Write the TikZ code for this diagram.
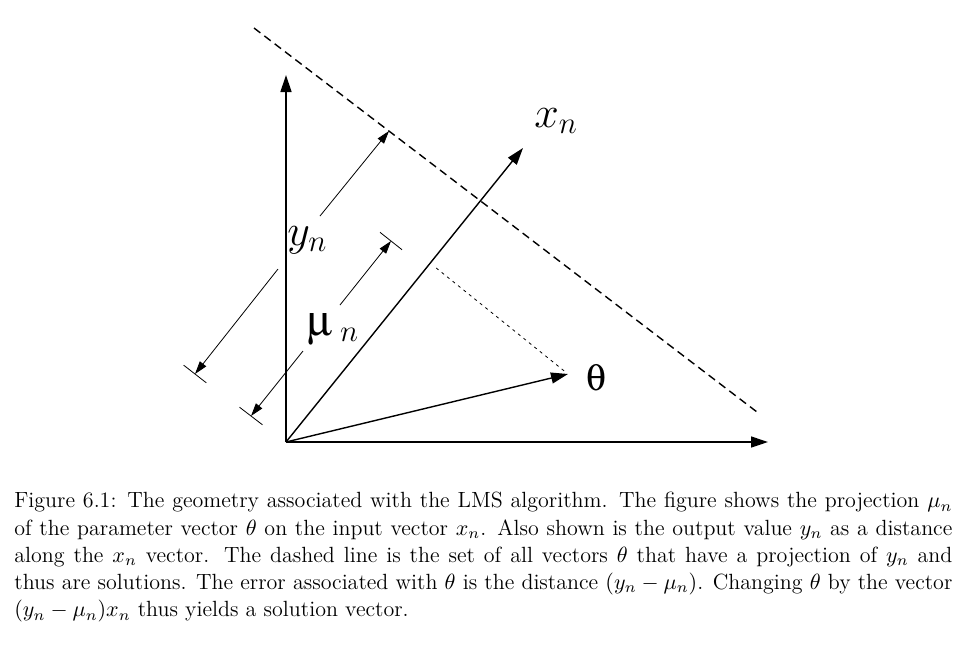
\documentclass[tikz,border=0pt]{standalone}
\usepackage{fix-cm}
\usepackage{fontspec}
\usepackage{amssymb}
\usepackage[Symbol]{upgreek}
\usetikzlibrary{arrows.meta,calc}
\newcommand{\veclabel}[2]{{\fontsize{22}{22}\selectfont$#1_{#2}$}}

\begin{document}
\begin{tikzpicture}[x=0.5pt,y=-0.5pt,
					axis/.style={-{Triangle[length=8.5pt,width=5.5pt]}, line width=0.7pt},
					dim/.style={-{Triangle[length=6.5pt,width=4pt]}, line width=0.4pt},
					tick/.style={line width=0.4pt},
					sol/.style={dashed, dash pattern=on 4pt off 2.5pt, line width=0.7pt},
					proj/.style={dash pattern=on 1.5pt off 2pt, line width=0.4pt},
					lbl/.style={inner sep=0pt, anchor=west},
					caption/.style={anchor=north west, inner sep=0pt, text width=469pt, align=justify, font=\fontsize{11}{13.6}\selectfont}]
					\useasboundingbox (0,0) rectangle (970,650);
					\coordinate (O) at (286,442);
					\coordinate (Yax) at (286,75);
					\coordinate (Xax) at (768,442);
					\coordinate (Xn) at (523,148);
					\coordinate (Th) at (568,374);
					\coordinate (P) at (430,263);
					\coordinate (D1) at (254,28);
					\coordinate (D2) at (757,412);
					\coordinate (Ya) at (195,374);
					\coordinate (Yb) at (389,131);
					\coordinate (Yg1) at (278,269);
					\coordinate (Yg2) at (320,216);
					\coordinate (Ma) at (251,416);
					\coordinate (Mb) at (391,241);
					\coordinate (Mg1) at (303,351);
					\coordinate (Mg2) at (340,305);
					
					\draw[axis] (O) -- (Yax);
					\draw[axis] (O) -- (Xax);
					\draw[axis] (O) -- (Xn);
					\draw[axis] (O) -- (Th);
					\draw[sol] (D1) -- (D2);
					\draw[proj, shorten <=4pt, shorten >=2pt] (P) -- (Th);
					
					\draw[dim] (Yg1) -- (Ya);
					\draw[dim] (Yg2) -- (Yb);
					\draw[tick] ($(Ya)+(-11.3,-8.8)$) -- ($(Ya)+(11.3,8.8)$);
					\draw[dim] (Mg1) -- (Ma);
					\draw[dim] (Mg2) -- (Mb);
					\draw[tick] ($(Ma)+(-11.5,-8.8)$) -- ($(Ma)+(11.5,8.8)$);
					\draw[tick] ($(Mb)+(-11,-8.7)$) -- ($(Mb)+(11,8.7)$);
					
					\node[lbl] (xnlabel) at (534,121) {\veclabel{x}{n}};
					\node[lbl] (ynlabel) at (287,240) {\veclabel{y}{n}};
					\node[lbl] (mulabel) at (307,329) {\veclabel{\upmu\,}{n}};
					\node[lbl] (thlabel) at (586,378) {\fontsize{19}{19}\selectfont$\uptheta$};
					
					\node[caption] (cap) at (14,492) {Figure 6.1: The geometry associated with the LMS algorithm. The figure shows the projection $\mu_n$ of the parameter vector $\theta$ on the input vector $x_n$. Also shown is the output value $y_n$ as a distance along the $x_n$ vector. The dashed line is the set of all vectors $\theta$ that have a projection of $y_n$ and thus are solutions. The error associated with $\theta$ is the distance $(y_n-\mu_n)$. Changing $\theta$ by the vector $(y_n-\mu_n)x_n$ thus yields a solution vector.};
				\end{tikzpicture}
\end{document}
